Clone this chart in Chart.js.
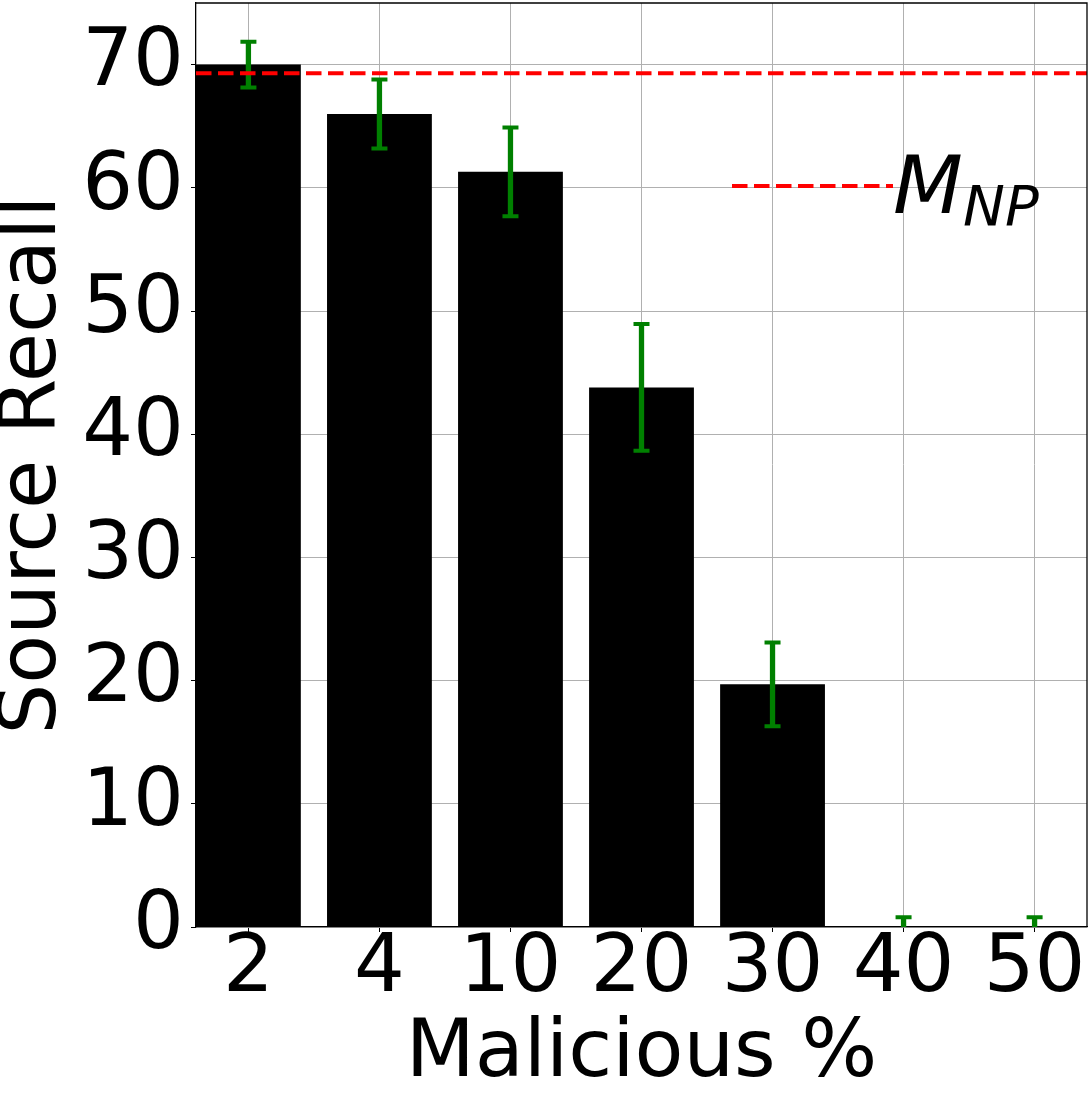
<!DOCTYPE html>
<html>
<head>
<meta charset="utf-8">
<script src="https://cdn.jsdelivr.net/npm/chart.js@4.4.1/dist/chart.umd.min.js"></script>
<style>
  html, body { margin: 0; padding: 0; background: #fff; }
  #wrap { width: 1092px; height: 1098px; position: relative; }
</style>
</head>
<body>
<div id="wrap"><canvas id="recallChart"></canvas></div>
<script>
// data
const maliciousPct = ['2', '4', '10', '20', '30', '40', '50'];
const sourceRecall = [70.0, 66.0, 61.3, 43.8, 19.7, 0, 0];
const recallErr = [1.85, 2.8, 3.6, 5.15, 3.4, 0.8, 0.8];
const baselineNP = 69.3;
const yTicks = [0, 10, 20, 30, 40, 50, 60, 70];

const FONT = '"DejaVu Sans", "Liberation Sans", sans-serif';

// green error bars, the red M_NP reference line and its legend
const overlayPlugin = {
    id: 'overlay',
    afterDraw(chart) {
        const ctx = chart.ctx;
        const area = chart.chartArea;
        const xs = chart.scales.x;
        const ys = chart.scales.y;

        ctx.save();
        ctx.beginPath();
        ctx.rect(area.left, area.top, area.right - area.left, area.bottom - area.top);
        ctx.clip();

        // error bars
        ctx.strokeStyle = '#008000';
        ctx.lineCap = 'butt';
        for (let i = 0; i < sourceRecall.length; i++) {
            const x = xs.getPixelForValue(i);
            const yTop = ys.getPixelForValue(sourceRecall[i] + recallErr[i]);
            const yBot = ys.getPixelForValue(sourceRecall[i] - recallErr[i]);
            ctx.lineWidth = 5.3;
            ctx.beginPath();
            ctx.moveTo(x, yTop);
            ctx.lineTo(x, yBot);
            ctx.stroke();
            ctx.lineWidth = 4;
            ctx.beginPath();
            ctx.moveTo(x - 8, yTop);
            ctx.lineTo(x + 8, yTop);
            ctx.moveTo(x - 8, yBot);
            ctx.lineTo(x + 8, yBot);
            ctx.stroke();
        }

        // M_NP horizontal line
        const yNP = ys.getPixelForValue(baselineNP);
        ctx.strokeStyle = '#ff0000';
        ctx.lineWidth = 4;
        ctx.setLineDash([15.5, 6.5]);
        ctx.beginPath();
        ctx.moveTo(area.left, yNP);
        ctx.lineTo(area.right, yNP);
        ctx.stroke();
        ctx.restore();

        // legend
        ctx.save();
        const ly = area.top + 183;
        ctx.strokeStyle = '#ff0000';
        ctx.lineWidth = 4;
        ctx.setLineDash([15.5, 6.5]);
        ctx.beginPath();
        ctx.moveTo(area.right - 355, ly);
        ctx.lineTo(area.right - 194, ly);
        ctx.stroke();
        ctx.setLineDash([]);
        ctx.fillStyle = '#000';
        ctx.textAlign = 'left';
        ctx.textBaseline = 'alphabetic';
        ctx.font = 'italic 81px ' + FONT;
        ctx.fillText('M', area.right - 194, area.top + 210);
        ctx.font = 'italic 56px ' + FONT;
        ctx.fillText('NP', area.right - 124, area.top + 222);
        ctx.restore();

        // top and right spines
        ctx.save();
        ctx.strokeStyle = '#000';
        ctx.lineWidth = 1.3;
        ctx.beginPath();
        ctx.moveTo(area.left, area.top);
        ctx.lineTo(area.right, area.top);
        ctx.lineTo(area.right, area.bottom);
        ctx.stroke();
        ctx.restore();
    }
};

function noEdgePadding(scale) {
    scale.paddingTop = 0;
    scale.paddingBottom = 0;
    scale.paddingLeft = 0;
    scale.paddingRight = 0;
}

document.addEventListener('DOMContentLoaded', function () {
    const ctx = document.getElementById('recallChart').getContext('2d');
    const recallChart = new Chart(ctx, {
        type: 'bar',
        data: {
            datasets: [{
                label: 'Source Recall',
                data: sourceRecall.map((v, i) => ({ x: i, y: v })),
                backgroundColor: '#000000',
                borderWidth: 0,
                barPercentage: 0.8,
                categoryPercentage: 1.0
            }]
        },
        options: {
            responsive: true,
            maintainAspectRatio: false,
            animation: false,
            layout: { padding: { top: 3, right: 5, left: 0, bottom: 0 } },
            plugins: {
                legend: { display: false },
                tooltip: { enabled: false }
            },
            scales: {
                x: {
                    type: 'linear',
                    min: -0.4,
                    max: 6.4,
                    offset: false,
                    z: 1,
                    afterBuildTicks: function (scale) {
                        scale.ticks = maliciousPct.map((_, i) => ({ value: i }));
                    },
                    afterFit: function (scale) {
                        scale.height = 171;
                        noEdgePadding(scale);
                    },
                    grid: {
                        offset: false,
                        color: '#b0b0b0',
                        lineWidth: 1,
                        tickColor: '#000',
                        tickLength: 5,
                        tickWidth: 1
                    },
                    border: { color: '#000', width: 1.3 },
                    ticks: {
                        color: '#000',
                        padding: 5,
                        maxRotation: 0,
                        autoSkip: false,
                        font: { family: FONT, size: 80, lineHeight: 0.82 },
                        callback: function (value) { return maliciousPct[Math.round(value)]; }
                    },
                    title: {
                        display: true,
                        text: 'Malicious %',
                        color: '#000',
                        padding: { top: 0, bottom: 10 },
                        font: { family: FONT, size: 80, lineHeight: 0.82 }
                    }
                },
                y: {
                    min: 0,
                    max: 75,
                    z: 1,
                    afterBuildTicks: function (scale) {
                        scale.ticks = yTicks.map(v => ({ value: v }));
                    },
                    afterFit: function (scale) {
                        scale.width = 196;
                        noEdgePadding(scale);
                    },
                    grid: {
                        color: '#b0b0b0',
                        lineWidth: 1,
                        tickColor: '#000',
                        tickLength: 5,
                        tickWidth: 1
                    },
                    border: { color: '#000', width: 1.3 },
                    ticks: {
                        color: '#000',
                        padding: 7,
                        font: { family: FONT, size: 80, lineHeight: 0.82 }
                    },
                    title: {
                        display: true,
                        text: 'Source Recall',
                        color: '#000',
                        padding: { top: 1, bottom: 0 },
                        font: { family: FONT, size: 80, lineHeight: 0.82 }
                    }
                }
            }
        },
        plugins: [overlayPlugin]
    });
});
</script>
</body>
</html>
